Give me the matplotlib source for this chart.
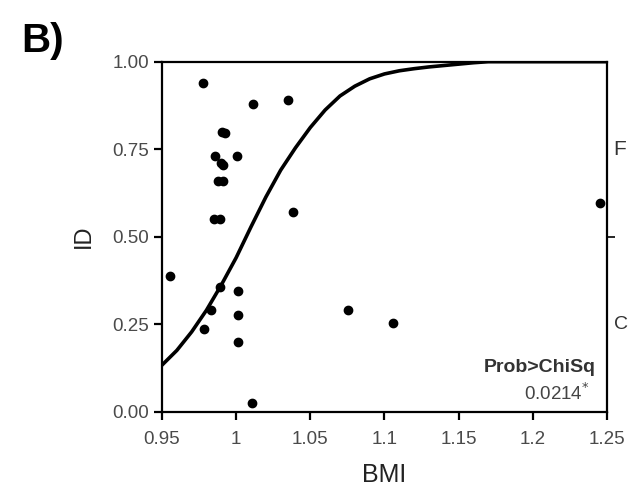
import matplotlib.pyplot as plt

plt.rcParams['font.family'] = ['Liberation Sans', 'DejaVu Sans']

# observed points (BMI, ID position)
bmi = [0.9779, 1.0116, 1.0348, 0.9905, 0.9925, 0.9857, 1.0004, 0.9895, 0.9912,
       0.9876, 0.9910, 0.9853, 0.9891, 1.0385, 0.9554, 0.9891, 1.0010, 0.9830,
       1.0010, 0.9785, 1.0010, 1.0756, 1.0107, 1.1058, 1.2453]
id_pos = [0.938, 0.878, 0.891, 0.800, 0.796, 0.731, 0.731, 0.710, 0.706,
          0.660, 0.660, 0.550, 0.550, 0.570, 0.388, 0.357, 0.346, 0.291,
          0.277, 0.235, 0.200, 0.291, 0.024, 0.253, 0.596]

# fitted logistic curve
curve_x = [0.95, 0.96, 0.97, 0.98, 0.99, 1.00, 1.01, 1.02, 1.03, 1.04, 1.05,
           1.06, 1.07, 1.08, 1.09, 1.10, 1.11, 1.12, 1.13, 1.14, 1.15, 1.16,
           1.17, 1.25]
curve_y = [0.133, 0.175, 0.228, 0.290, 0.362, 0.440, 0.528, 0.613, 0.690,
           0.754, 0.812, 0.862, 0.902, 0.930, 0.951, 0.965, 0.974, 0.980,
           0.985, 0.989, 0.993, 0.997, 1.0, 1.0]

xticks = [0.95, 1.0, 1.05, 1.1, 1.15, 1.2, 1.25]
xtick_labels = ['0.95', '1', '1.05', '1.1', '1.15', '1.2', '1.25']
yticks = [0.0, 0.25, 0.5, 0.75, 1.0]
ytick_labels = ['0.00', '0.25', '0.50', '0.75', '1.00']

fig = plt.figure(figsize=(6.31, 4.99), dpi=100)
ax = fig.add_axes([0.2567, 0.175, 0.7053, 0.7014])

ax.plot(curve_x, curve_y, color='black', lw=2.6, solid_capstyle='round',
        solid_joinstyle='round', zorder=3)
ax.scatter(bmi, id_pos, s=36, color='black', zorder=4)

ax.set_xlim(0.95, 1.25)
ax.set_ylim(0, 1)
ax.set_xticks(xticks)
ax.set_xticklabels(xtick_labels)
ax.set_yticks(yticks)
ax.set_yticklabels(ytick_labels)

for s in ax.spines.values():
    s.set_linewidth(1.6)
ax.tick_params(direction='out', length=6, width=1.6, labelsize=13.5,
               labelcolor='#4a4a4a')
ax.tick_params(axis='x', pad=8)
ax.tick_params(axis='y', pad=3)

ax.set_xlabel('BMI', fontsize=18, labelpad=11, color='#222222')
ax.set_ylabel('ID', fontsize=17, labelpad=13, color='#222222')

# right side category axis
ax2 = ax.twinx()
ax2.set_ylim(0, 1)
ax2.set_yticks([0.5])
ax2.set_yticklabels([''])
ax2.tick_params(direction='out', length=6, width=1.2)
for s in ax2.spines.values():
    s.set_visible(False)
ax2.text(1.015, 0.75, 'F', transform=ax.transAxes, fontsize=15,
         va='center', ha='left', color='#333333')
ax2.text(1.015, 0.25, 'C', transform=ax.transAxes, fontsize=14,
         va='center', ha='left', color='#333333')

ax.text(0.975, 0.125, 'Prob>ChiSq', transform=ax.transAxes, fontsize=14,
        fontweight='bold', ha='right', va='center', color='#333333')
ax.text(0.96, 0.053, '0.0214$^{*}$', transform=ax.transAxes, fontsize=13.5,
        ha='right', va='center', color='#444444')

fig.text(0.034, 0.918, 'B)', fontsize=29, fontweight='bold', va='center')

fig.savefig('out.png', dpi=100)
